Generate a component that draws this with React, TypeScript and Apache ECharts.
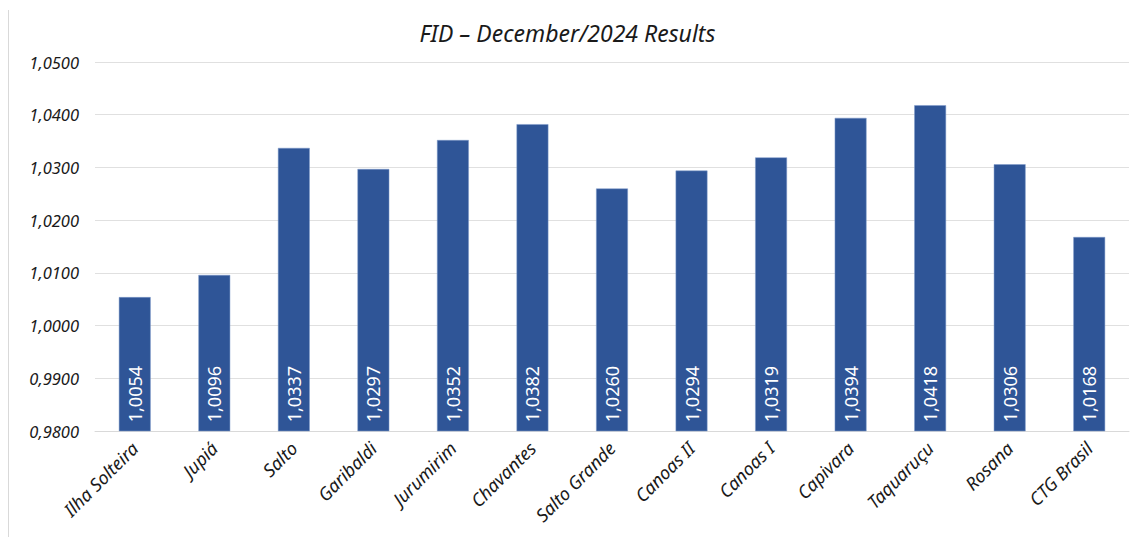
import React, { useEffect, useRef } from "react";
import * as echarts from "echarts";

const categories = [
  "Ilha Solteira", "Jupiá", "Salto", "Garibaldi", "Jurumirim", "Chavantes",
  "Salto Grande", "Canoas II", "Canoas I", "Capivara", "Taquaruçu", "Rosana", "CTG Brasil",
];
const values = [1.0054, 1.0096, 1.0337, 1.0297, 1.0352, 1.0382, 1.026, 1.0294, 1.0319, 1.0394, 1.0418, 1.0306, 1.0168];
const yMin = 0.98;
const yMax = 1.05;
const yInterval = 0.01;
const title = "FID – December/2024 Results";

const fmt = (v: number) => v.toFixed(4).replace(".", ",");

export default function App() {
  const ref = useRef<HTMLDivElement>(null);
  useEffect(() => {
    document.body.style.margin = "0";
    const chart = echarts.init(ref.current!, null, { renderer: "svg" });
    const font = "'Noto Sans', sans-serif";
    chart.setOption({
      animation: false,
      backgroundColor: "#ffffff",
      title: {
        text: title,
        left: "center",
        top: 16,
        textStyle: { fontFamily: font, fontStyle: "italic", fontWeight: "normal", fontSize: 23, color: "#1a1a1a" },
      },
      graphic: [
        { type: "line", shape: { x1: 8.5, y1: 10, x2: 8.5, y2: 537 }, style: { stroke: "#d9d9d9", lineWidth: 1 } },
      ],
      grid: { left: 95, right: 6, top: 62, bottom: 106 },
      xAxis: {
        type: "category",
        data: categories,
        axisTick: { show: false },
        axisLine: { show: true, lineStyle: { color: "#d9d9d9", width: 1 } },
        axisLabel: {
          rotate: 45,
          interval: 0,
          margin: 14,
          fontFamily: font,
          fontStyle: "italic",
          fontSize: 18,
          color: "#1a1a1a",
        },
      },
      yAxis: {
        type: "value",
        min: yMin,
        max: yMax,
        interval: yInterval,
        axisLine: { show: false },
        axisTick: { show: false },
        splitLine: { lineStyle: { color: "#e0e0e0", width: 1 } },
        axisLabel: {
          formatter: (v: number) => fmt(v),
          margin: 16,
          fontFamily: font,
          fontStyle: "italic",
          fontSize: 16.5,
          color: "#1a1a1a",
        },
      },
      series: [
        {
          type: "bar",
          data: values,
          barWidth: "40%",
          itemStyle: { color: "#2F5597", borderColor: "#7f9acb", borderWidth: 0.5 },
          label: {
            show: true,
            position: "insideBottom",
            rotate: 90,
            align: "left",
            verticalAlign: "middle",
            distance: 9,
            formatter: (p: any) => fmt(p.value),
            fontFamily: font,
            fontSize: 18,
            color: "#ffffff",
          },
        },
      ],
    });
    return () => chart.dispose();
  }, []);
  return <div ref={ref} style={{ width: 1135, height: 537 }} />;
}
